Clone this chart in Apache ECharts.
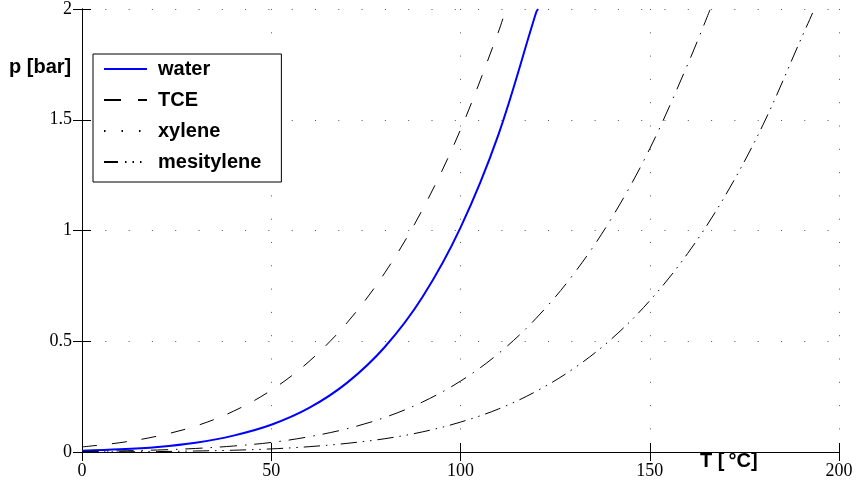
<!DOCTYPE html>
<html>
<head>
<meta charset="utf-8">
<script src="https://cdn.jsdelivr.net/npm/echarts@6/dist/echarts.min.js"></script>
<style>
  html, body { margin: 0; padding: 0; background: #fff; }
  #chart { width: 857px; height: 484px; }
</style>
</head>
<body>
<div id="chart"></div>
<script>
// vapour pressure curves
var tWater = [0, 10, 20, 30, 40, 50, 60, 70, 80, 90, 100, 110, 120, 120.5];
var pWater = [0.006, 0.012, 0.023, 0.042, 0.074, 0.123, 0.199, 0.312, 0.474, 0.701, 1.013, 1.432, 1.985, 2.0];

var tTce = [0, 10, 20, 30, 40, 50, 60, 70, 80, 90, 100, 110, 112];
var pTce = [0.023, 0.042, 0.072, 0.117, 0.184, 0.279, 0.409, 0.583, 0.809, 1.096, 1.455, 1.896, 2.0];

var tXylene = [0, 10, 20, 30, 40, 50, 60, 70, 80, 90, 100, 110, 120, 130, 140, 150, 160, 166];
var pXylene = [0.002, 0.005, 0.009, 0.016, 0.027, 0.043, 0.069, 0.105, 0.156, 0.226, 0.320, 0.444, 0.604, 0.806, 1.058, 1.369, 1.749, 2.0];

var tMesit = [0, 10, 20, 30, 40, 50, 60, 70, 80, 90, 100, 110, 120, 130, 140, 150, 160, 170, 180, 190, 193.5];
var pMesit = [0.0005, 0.001, 0.002, 0.0045, 0.008, 0.014, 0.024, 0.039, 0.060, 0.091, 0.135, 0.194, 0.274, 0.378, 0.512, 0.683, 0.896, 1.159, 1.480, 1.866, 2.0];

var names = ['water', 'TCE', 'xylene', 'mesitylene'];

function pairs(t, p) {
  return t.map(function (x, i) { return [x, p[i]]; });
}

var labelFont = { fontFamily: 'Liberation Serif', fontSize: 18, color: '#000' };
var lineBlack = { color: '#000', width: 1 };

var chart = echarts.init(document.getElementById('chart'));

var option = {
  animation: false,
  backgroundColor: '#fff',
  grid: { left: 82, right: 18, top: 9, bottom: 32 },
  legend: {
    orient: 'vertical',
    left: 93,
    top: 54,
    padding: [5, 20, 10, 10],
    itemWidth: 43,
    itemHeight: 14,
    itemGap: 11,
    backgroundColor: '#fff',
    borderColor: '#000',
    borderWidth: 1,
    borderRadius: 0,
    itemStyle: { opacity: 0 },
    textStyle: { fontFamily: 'Liberation Sans', fontWeight: 'bold', fontSize: 20, color: '#000', padding: [0, 0, 0, 6] },
    data: [
      { name: 'water' },
      { name: 'TCE', lineStyle: { type: [17, 17] } },
      { name: 'xylene', lineStyle: { type: [1.5, 16] } },
      { name: 'mesitylene', lineStyle: { type: [14, 7, 1.5, 6, 1.5, 6, 1.5, 20] } }
    ]
  },
  xAxis: [{
    type: 'value', min: 0, max: 200, interval: 50,
    axisLine: { lineStyle: lineBlack },
    axisTick: { inside: true, length: 9, lineStyle: lineBlack },
    axisLabel: Object.assign({ margin: 10 }, labelFont),
    splitLine: { show: true, lineStyle: { color: '#555', width: 1, type: [1, 22.3] } }
  }, {
    type: 'value', min: 0, max: 200, interval: 50, position: 'top',
    axisLine: { show: true, lineStyle: lineBlack },
    axisTick: { show: true, inside: true, length: 9, lineStyle: lineBlack },
    axisLabel: { show: false },
    splitLine: { show: false }
  }],
  yAxis: [{
    type: 'value', min: 0, max: 2, interval: 0.5,
    axisLine: { show: true, lineStyle: lineBlack },
    axisTick: { show: true, inside: true, length: 9, lineStyle: lineBlack },
    axisLabel: Object.assign({ margin: 10 }, labelFont),
    splitLine: { show: true, lineStyle: { color: '#555', width: 1, type: [1, 22.3] } }
  }, {
    type: 'value', min: 0, max: 2, interval: 0.5, position: 'right',
    axisLine: { show: true, lineStyle: lineBlack },
    axisTick: { show: true, inside: true, length: 9, lineStyle: lineBlack },
    axisLabel: { show: false },
    splitLine: { show: false }
  }],
  graphic: [
    { type: 'text', left: 9, top: 57, style: { text: 'p [bar]', font: 'bold 20px "Liberation Sans"', fill: '#000' } },
    { type: 'text', left: 700, top: 451, style: { text: 'T [\u2009°C]', font: 'bold 20px "Liberation Sans"', fill: '#000' } }
  ],
  series: [
    { name: names[0], type: 'line', symbol: 'none', smooth: 0.35,
      data: pairs(tWater, pWater), lineStyle: { color: '#0000ff', width: 2 }, itemStyle: { color: '#0000ff' } },
    { name: names[1], type: 'line', symbol: 'none', smooth: 0.35,
      data: pairs(tTce, pTce), lineStyle: { color: '#000', width: 1, type: [15, 15] }, itemStyle: { color: '#000' } },
    { name: names[2], type: 'line', symbol: 'none', smooth: 0.35,
      data: pairs(tXylene, pXylene), lineStyle: { color: '#000', width: 1, type: [17, 8, 1.5, 8] }, itemStyle: { color: '#000' } },
    { name: names[3], type: 'line', symbol: 'none', smooth: 0.35,
      data: pairs(tMesit, pMesit), lineStyle: { color: '#000', width: 1, type: [16, 6, 1.5, 6, 1.5, 6] }, itemStyle: { color: '#000' } }
  ]
};

chart.setOption(option);
</script>
</body>
</html>
